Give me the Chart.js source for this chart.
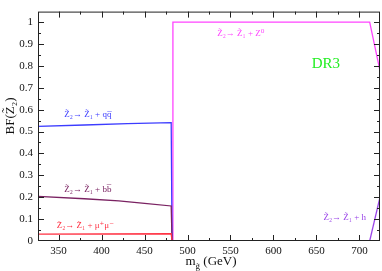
<!DOCTYPE html>
<html><head><meta charset="utf-8">
<script src="https://cdn.jsdelivr.net/npm/chart.js@4/dist/chart.umd.min.js"></script>
<style>html,body{margin:0;padding:0;background:#fff}#w{width:382px;height:271px}</style>
</head><body><div id="w"><canvas id="c" width="382" height="271"></canvas></div>
<script>
// Data
const xTicks = [350, 400, 450, 500, 550, 600, 650, 700];
const yTicks = [0, 0.1, 0.2, 0.3, 0.4, 0.5, 0.6, 0.7, 0.8, 0.9, 1];
const yTickLabels = ['0', '0.1', '0.2', '0.3', '0.4', '0.5', '0.6', '0.7', '0.8', '0.9', '1'];
const qqX = [326, 380, 430, 481, 482];
const qqY = [0.524, 0.530, 0.536, 0.541, 0];
const bbX = [326, 380, 420, 450, 481, 482, 724];
const bbY = [0.204, 0.193, 0.183, 0.172, 0.160, 0, 0];
const mumuX = [326, 481, 482, 724];
const mumuY = [0.031, 0.033, 0, 0];
const zX = [326, 482, 483, 712, 724];
const zY = [0, 0, 1.0, 1.0, 0.777];
const hX = [712, 724];
const hY = [0, 0.2];

const pts = (xs, ys) => xs.map((x, i) => ({x, y: ys[i]}));
const FONT = '"Liberation Serif", "DejaVu Serif", serif';

const labels = [
  {t: 'Z\u0303\u2082\u2192 Z\u0303\u2081 + qq\u0305', x: 384, y: 0.566, c: '#3c3cff'},
  {t: 'Z\u0303\u2082\u2192 Z\u0303\u2081 + bb\u0305', x: 384, y: 0.224, c: '#7a2262'},
  {t: 'Z\u0303\u2082\u2192 Z\u0303\u2081 + \u03bc\u207a\u03bc\u207b', x: 381, y: 0.058, c: '#ff3344'},
  {t: 'Z\u0303\u2082\u2192 Z\u0303\u2081 + Z\u2070', x: 562, y: 0.936, c: '#ff44ff'},
  {t: 'Z\u0303\u2082\u2192 Z\u0303\u2081 + h', x: 683, y: 0.098, c: '#9a44e8'}
];

const decor = {
  id: 'decor',
  afterDraw(chart) {
    const {ctx, chartArea: a, scales: {x, y}} = chart;
    ctx.save();
    ctx.strokeStyle = '#222';
    ctx.lineWidth = 1;
    ctx.strokeRect(a.left + 0.5, a.top + 0.5, a.right - a.left - 1, a.bottom - a.top - 1);
    for (let v = 325; v <= 725; v += 25) {
      const px = Math.round(x.getPixelForValue(v)) + 0.5;
      if (px < a.left || px > a.right) continue;
      const len = (v % 50 === 0) ? 6 : 3;
      ctx.beginPath();
      ctx.moveTo(px, a.bottom); ctx.lineTo(px, a.bottom - len);
      ctx.moveTo(px, a.top); ctx.lineTo(px, a.top + len);
      ctx.stroke();
    }
    for (let k = 0; k <= 21; k++) {
      const v = k * 0.05;
      const py = Math.round(y.getPixelForValue(v)) + 0.5;
      if (py < a.top || py > a.bottom) continue;
      const len = (k % 2 === 0) ? 6 : 3;
      ctx.beginPath();
      ctx.moveTo(a.left, py); ctx.lineTo(a.left + len, py);
      ctx.moveTo(a.right, py); ctx.lineTo(a.right - len, py);
      ctx.stroke();
    }
    ctx.font = '9px ' + FONT;
    ctx.textAlign = 'center';
    ctx.textBaseline = 'alphabetic';
    labels.forEach(l => {
      ctx.fillStyle = l.c;
      ctx.fillText(l.t, x.getPixelForValue(l.x), y.getPixelForValue(l.y));
    });
    ctx.font = '15px ' + FONT;
    ctx.fillStyle = '#22ee22';
    ctx.textBaseline = 'middle';
    ctx.fillText('DR3', x.getPixelForValue(661), y.getPixelForValue(0.808));
    ctx.fillStyle = '#111';
    ctx.font = '13px ' + FONT;
    ctx.textBaseline = 'alphabetic';
    ctx.textAlign = 'left';
    const cx = (a.left + a.right) / 2;
    const mW = ctx.measureText('m').width;
    const rest = ' (GeV)';
    ctx.font = '9px ' + FONT;
    const gW = ctx.measureText('g\u0303').width;
    ctx.font = '13px ' + FONT;
    const rW = ctx.measureText(rest).width;
    let sx = cx - (mW + gW + rW) / 2 + 2;
    ctx.fillText('m', sx, 265);
    ctx.font = '9px ' + FONT;
    ctx.fillText('g\u0303', sx + mW, 269);
    ctx.font = '13px ' + FONT;
    ctx.fillText(rest, sx + mW + gW, 265);
    ctx.save();
    ctx.translate(14, 116);
    ctx.rotate(-Math.PI / 2);
    ctx.textAlign = 'center';
    ctx.fillText('BF(Z\u0303\u2082)', 0, 0);
    ctx.restore();
    ctx.restore();
  }
};

const ds = (xs, ys, c) => ({data: pts(xs, ys), borderColor: c, borderWidth: 1.3, pointRadius: 0, fill: false, tension: 0});

new Chart(document.getElementById('c'), {
  type: 'line',
  data: {datasets: [
    ds(mumuX, mumuY, '#ff3344'),
    ds(bbX, bbY, '#7a2262'),
    ds(qqX, qqY, '#3c3cff'),
    ds(zX, zY, '#ff44ff'),
    ds(hX, hY, '#9a44e8')
  ]},
  options: {
    responsive: false,
    animation: false,
    devicePixelRatio: 1,
    layout: {padding: {top: 1, right: 2, left: 0, bottom: 0}},
    plugins: {legend: {display: false}, tooltip: {enabled: false}},
    scales: {
      x: {
        type: 'linear', min: 326, max: 724,
        afterBuildTicks: s => { s.ticks = xTicks.map(v => ({value: v})); },
        afterFit: s => { s.height = 30; },
        grid: {display: false, drawTicks: false},
        border: {display: false},
        ticks: {color: '#111', font: {family: FONT, size: 11}, padding: 4, maxRotation: 0,
          callback: v => String(v)}
      },
      y: {
        type: 'linear', min: 0, max: 1.048,
        afterBuildTicks: s => { s.ticks = yTicks.map(v => ({value: v})); },
        afterFit: s => { s.width = 38; },
        grid: {display: false, drawTicks: false},
        border: {display: false},
        ticks: {color: '#111', font: {family: FONT, size: 11}, padding: 5,
          callback: (v) => yTickLabels[yTicks.indexOf(v)] ?? String(v)}
      }
    }
  },
  plugins: [decor]
});
</script>
</body></html>
